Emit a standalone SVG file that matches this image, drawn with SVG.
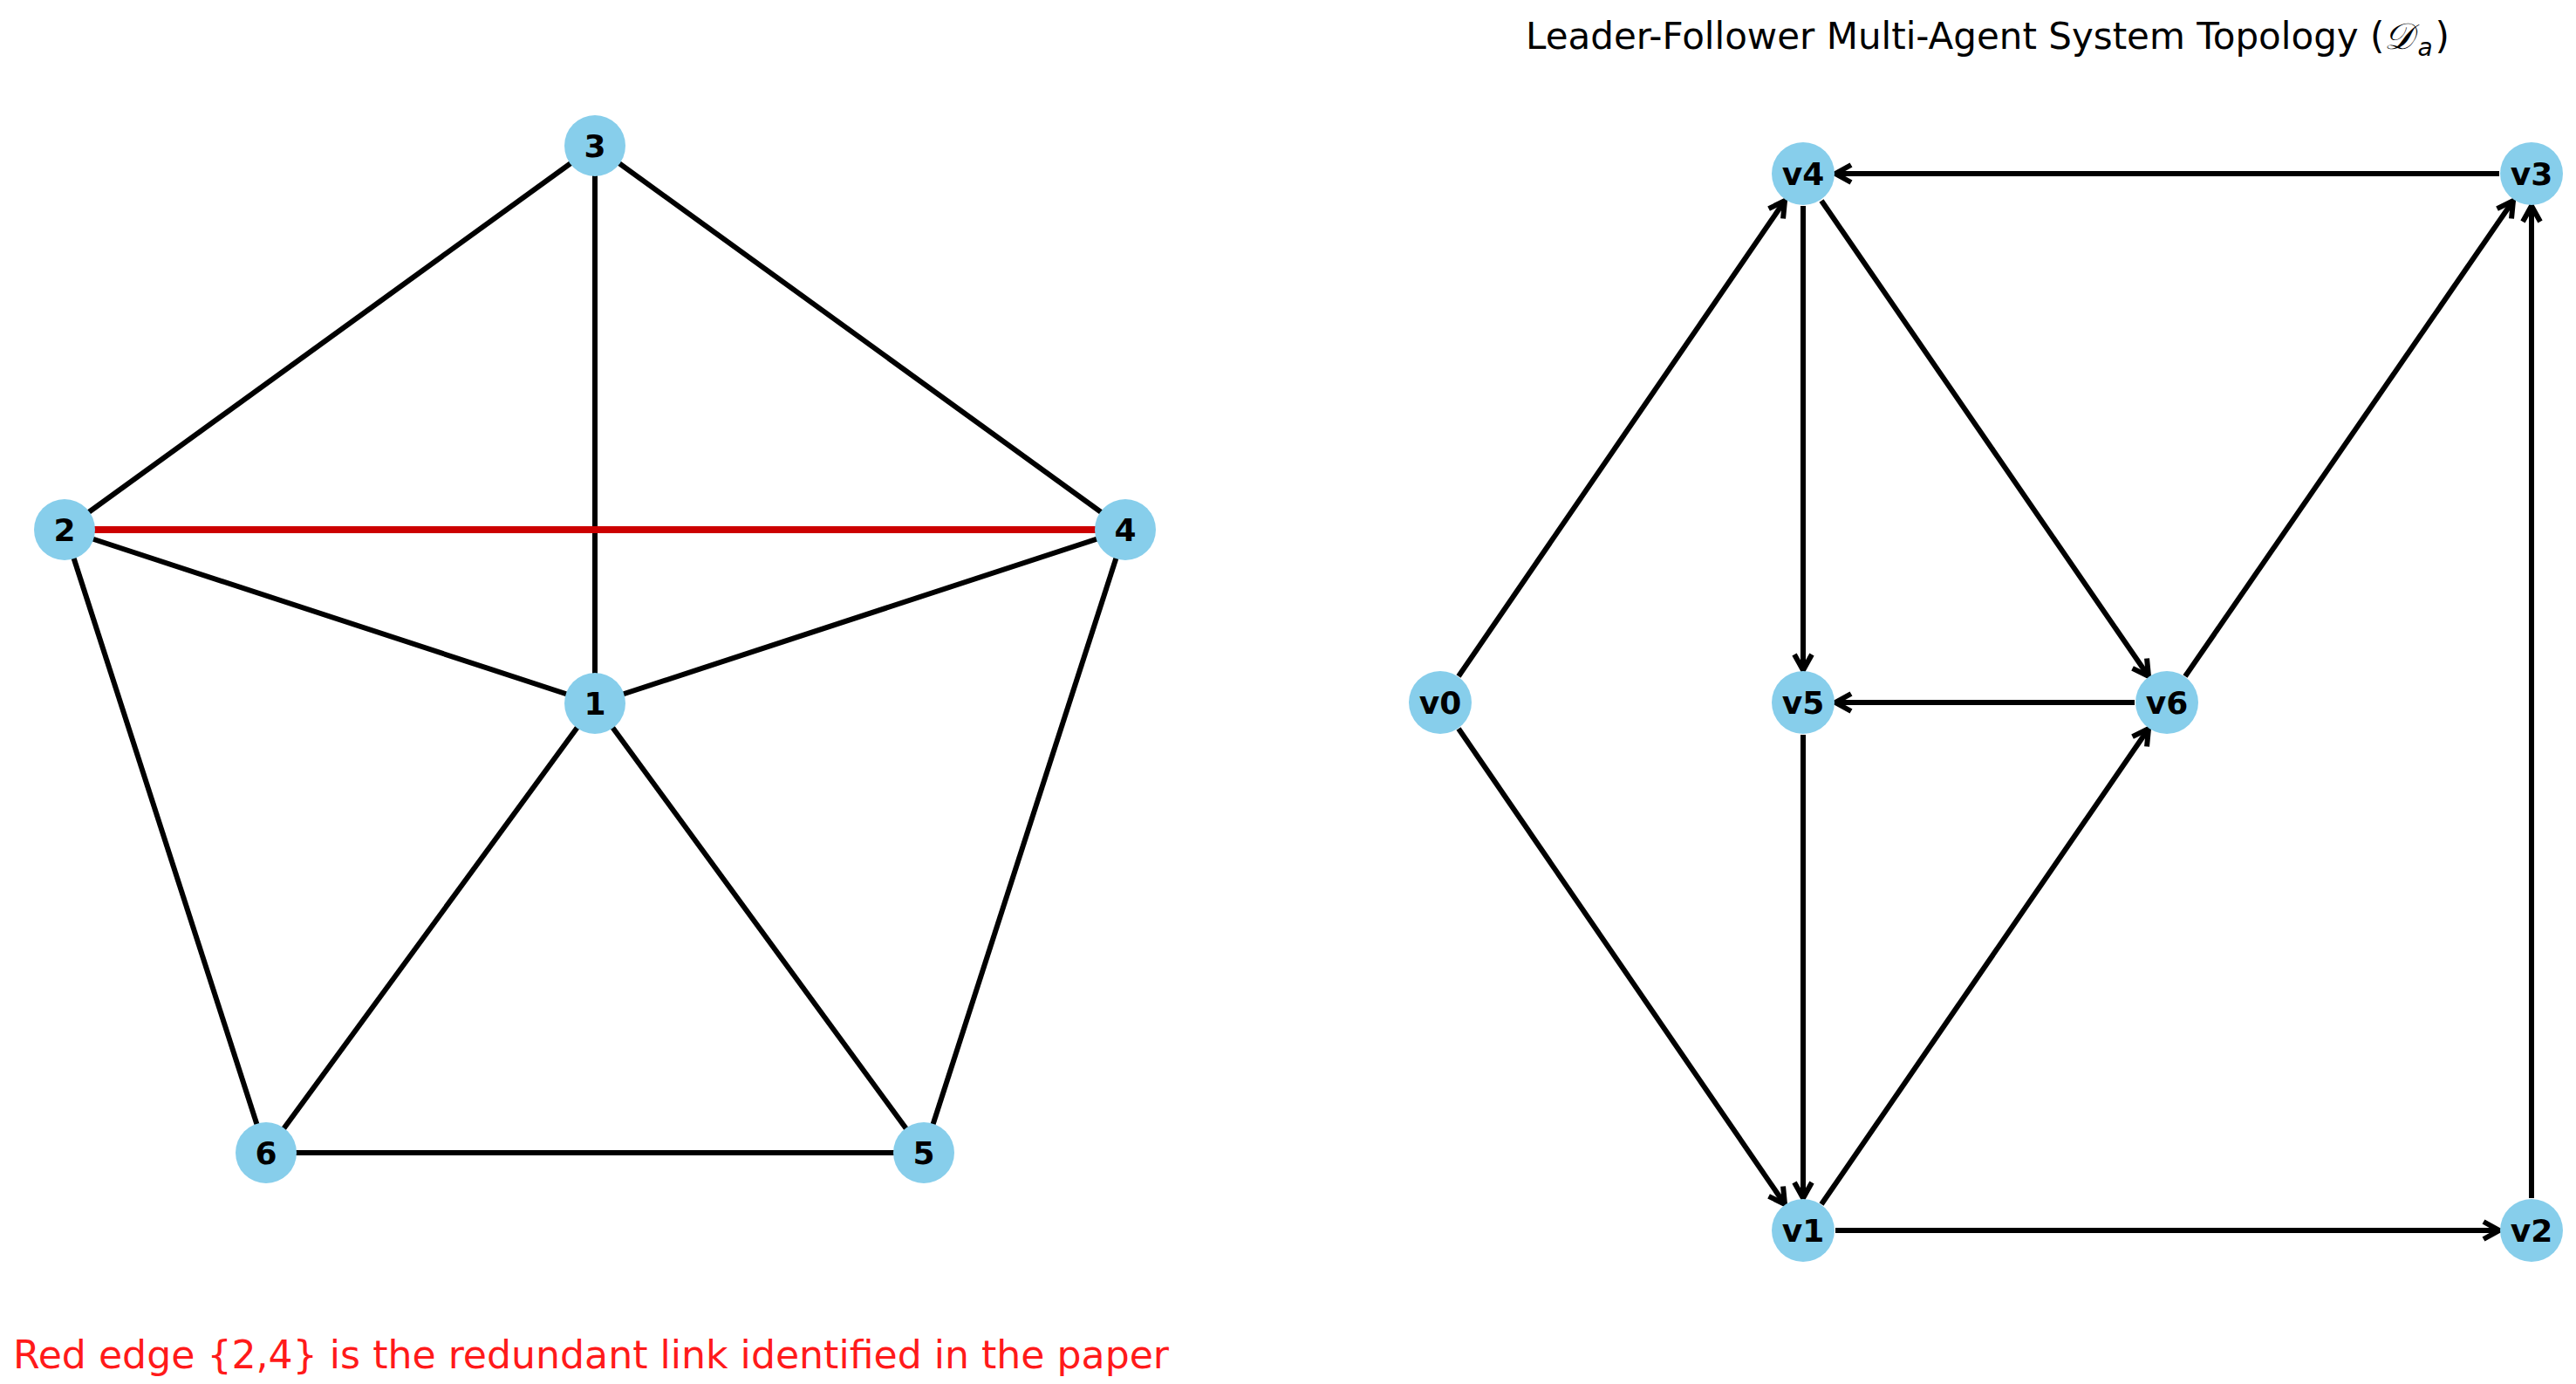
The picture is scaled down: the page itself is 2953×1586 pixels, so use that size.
<svg xmlns="http://www.w3.org/2000/svg" width="2953" height="1586" viewBox="0 0 2953 1586">
<style>
.bg{fill:#ffffff}
.e{stroke:#000000;stroke-width:6;fill:none;stroke-linecap:butt}
.red{stroke:#cc0000;stroke-width:8;fill:none}
.a{stroke:#000000;stroke-width:6;fill:none;marker-end:url(#arr)}
.n{fill:#87ceeb}
.lbl{font-family:"DejaVu Sans",sans-serif;font-weight:bold;font-size:36px;fill:#000000;text-anchor:middle;dominant-baseline:central}
.title{font-family:"DejaVu Sans",sans-serif;font-size:42px;fill:#000000}
.note{font-family:"DejaVu Sans",sans-serif;font-size:44px;fill:#ff1a1a}
</style>
<defs>
<marker id="arr" markerUnits="userSpaceOnUse" markerWidth="40" markerHeight="40" viewBox="-30 -20 40 40" refX="0" refY="0" orient="auto">
<path d="M -18 -10 L 0 0 L -18 10" stroke="#000000" stroke-width="6" fill="none" stroke-linejoin="miter"/>
</marker>
</defs>
<rect class="bg" x="0" y="0" width="2953" height="1586"/>

<g id="connectors-left">
<line class="e" x1="682" y1="167" x2="74" y2="607"/>
<line class="e" x1="682" y1="167" x2="682" y2="806"/>
<line class="e" x1="682" y1="167" x2="1290" y2="607"/>
<line class="e" x1="74" y1="607" x2="682" y2="806"/>
<line class="e" x1="1290" y1="607" x2="682" y2="806"/>
<line class="e" x1="74" y1="607" x2="305" y2="1321"/>
<line class="e" x1="1290" y1="607" x2="1059" y2="1321"/>
<line class="e" x1="682" y1="806" x2="305" y2="1321"/>
<line class="e" x1="682" y1="806" x2="1059" y2="1321"/>
<line class="e" x1="305" y1="1321" x2="1059" y2="1321"/>
<line class="red" x1="74" y1="607" x2="1290" y2="607"/>
</g>

<g id="node-3"><circle class="n" cx="682" cy="167" r="35"/><text class="lbl" x="682" y="167">3</text></g>
<g id="node-2"><circle class="n" cx="74" cy="607" r="35"/><text class="lbl" x="74" y="607">2</text></g>
<g id="node-4"><circle class="n" cx="1290" cy="607" r="35"/><text class="lbl" x="1290" y="607">4</text></g>
<g id="node-1"><circle class="n" cx="682" cy="806" r="35"/><text class="lbl" x="682" y="806">1</text></g>
<g id="node-6"><circle class="n" cx="305" cy="1321" r="35"/><text class="lbl" x="305" y="1321">6</text></g>
<g id="node-5"><circle class="n" cx="1059" cy="1321" r="35"/><text class="lbl" x="1059" y="1321">5</text></g>

<text class="note" x="15" y="1568" textLength="1325" lengthAdjust="spacingAndGlyphs">Red edge {2,4} is the redundant link identified in the paper</text>

<text class="title" x="1749" y="56">Leader-Follower Multi-Agent System Topology (<tspan font-family="'DejaVu Serif',serif" font-style="italic">𝒟</tspan><tspan font-style="italic" font-size="28" dx="4" dy="8">a</tspan><tspan dx="3" dy="-8">)</tspan></text>

<g id="connectors-right">
<line class="a" x1="2865" y1="199" x2="2104" y2="199"/>
<line class="a" x1="1672" y1="775" x2="2046" y2="230"/>
<line class="a" x1="2067" y1="236" x2="2067" y2="768"/>
<line class="a" x1="2088" y1="230" x2="2463" y2="775"/>
<line class="a" x1="2447" y1="805" x2="2104" y2="805"/>
<line class="a" x1="2505" y1="775" x2="2881" y2="230"/>
<line class="a" x1="2902" y1="1373" x2="2902" y2="236"/>
<line class="a" x1="1672" y1="835" x2="2046" y2="1380"/>
<line class="a" x1="2067" y1="842" x2="2067" y2="1373"/>
<line class="a" x1="2088" y1="1380" x2="2463" y2="835"/>
<line class="a" x1="2104" y1="1410" x2="2865" y2="1410"/>
</g>

<g id="node-v0"><circle class="n" cx="1651" cy="805" r="36"/><text class="lbl" x="1651" y="805">v0</text></g>
<g id="node-v4"><circle class="n" cx="2067" cy="199" r="36"/><text class="lbl" x="2067" y="199">v4</text></g>
<g id="node-v5"><circle class="n" cx="2067" cy="805" r="36"/><text class="lbl" x="2067" y="805">v5</text></g>
<g id="node-v6"><circle class="n" cx="2484" cy="805" r="36"/><text class="lbl" x="2484" y="805">v6</text></g>
<g id="node-v1"><circle class="n" cx="2067" cy="1410" r="36"/><text class="lbl" x="2067" y="1410">v1</text></g>
<g id="node-v3"><circle class="n" cx="2902" cy="199" r="36"/><text class="lbl" x="2902" y="199">v3</text></g>
<g id="node-v2"><circle class="n" cx="2902" cy="1410" r="36"/><text class="lbl" x="2902" y="1410">v2</text></g>
</svg>
